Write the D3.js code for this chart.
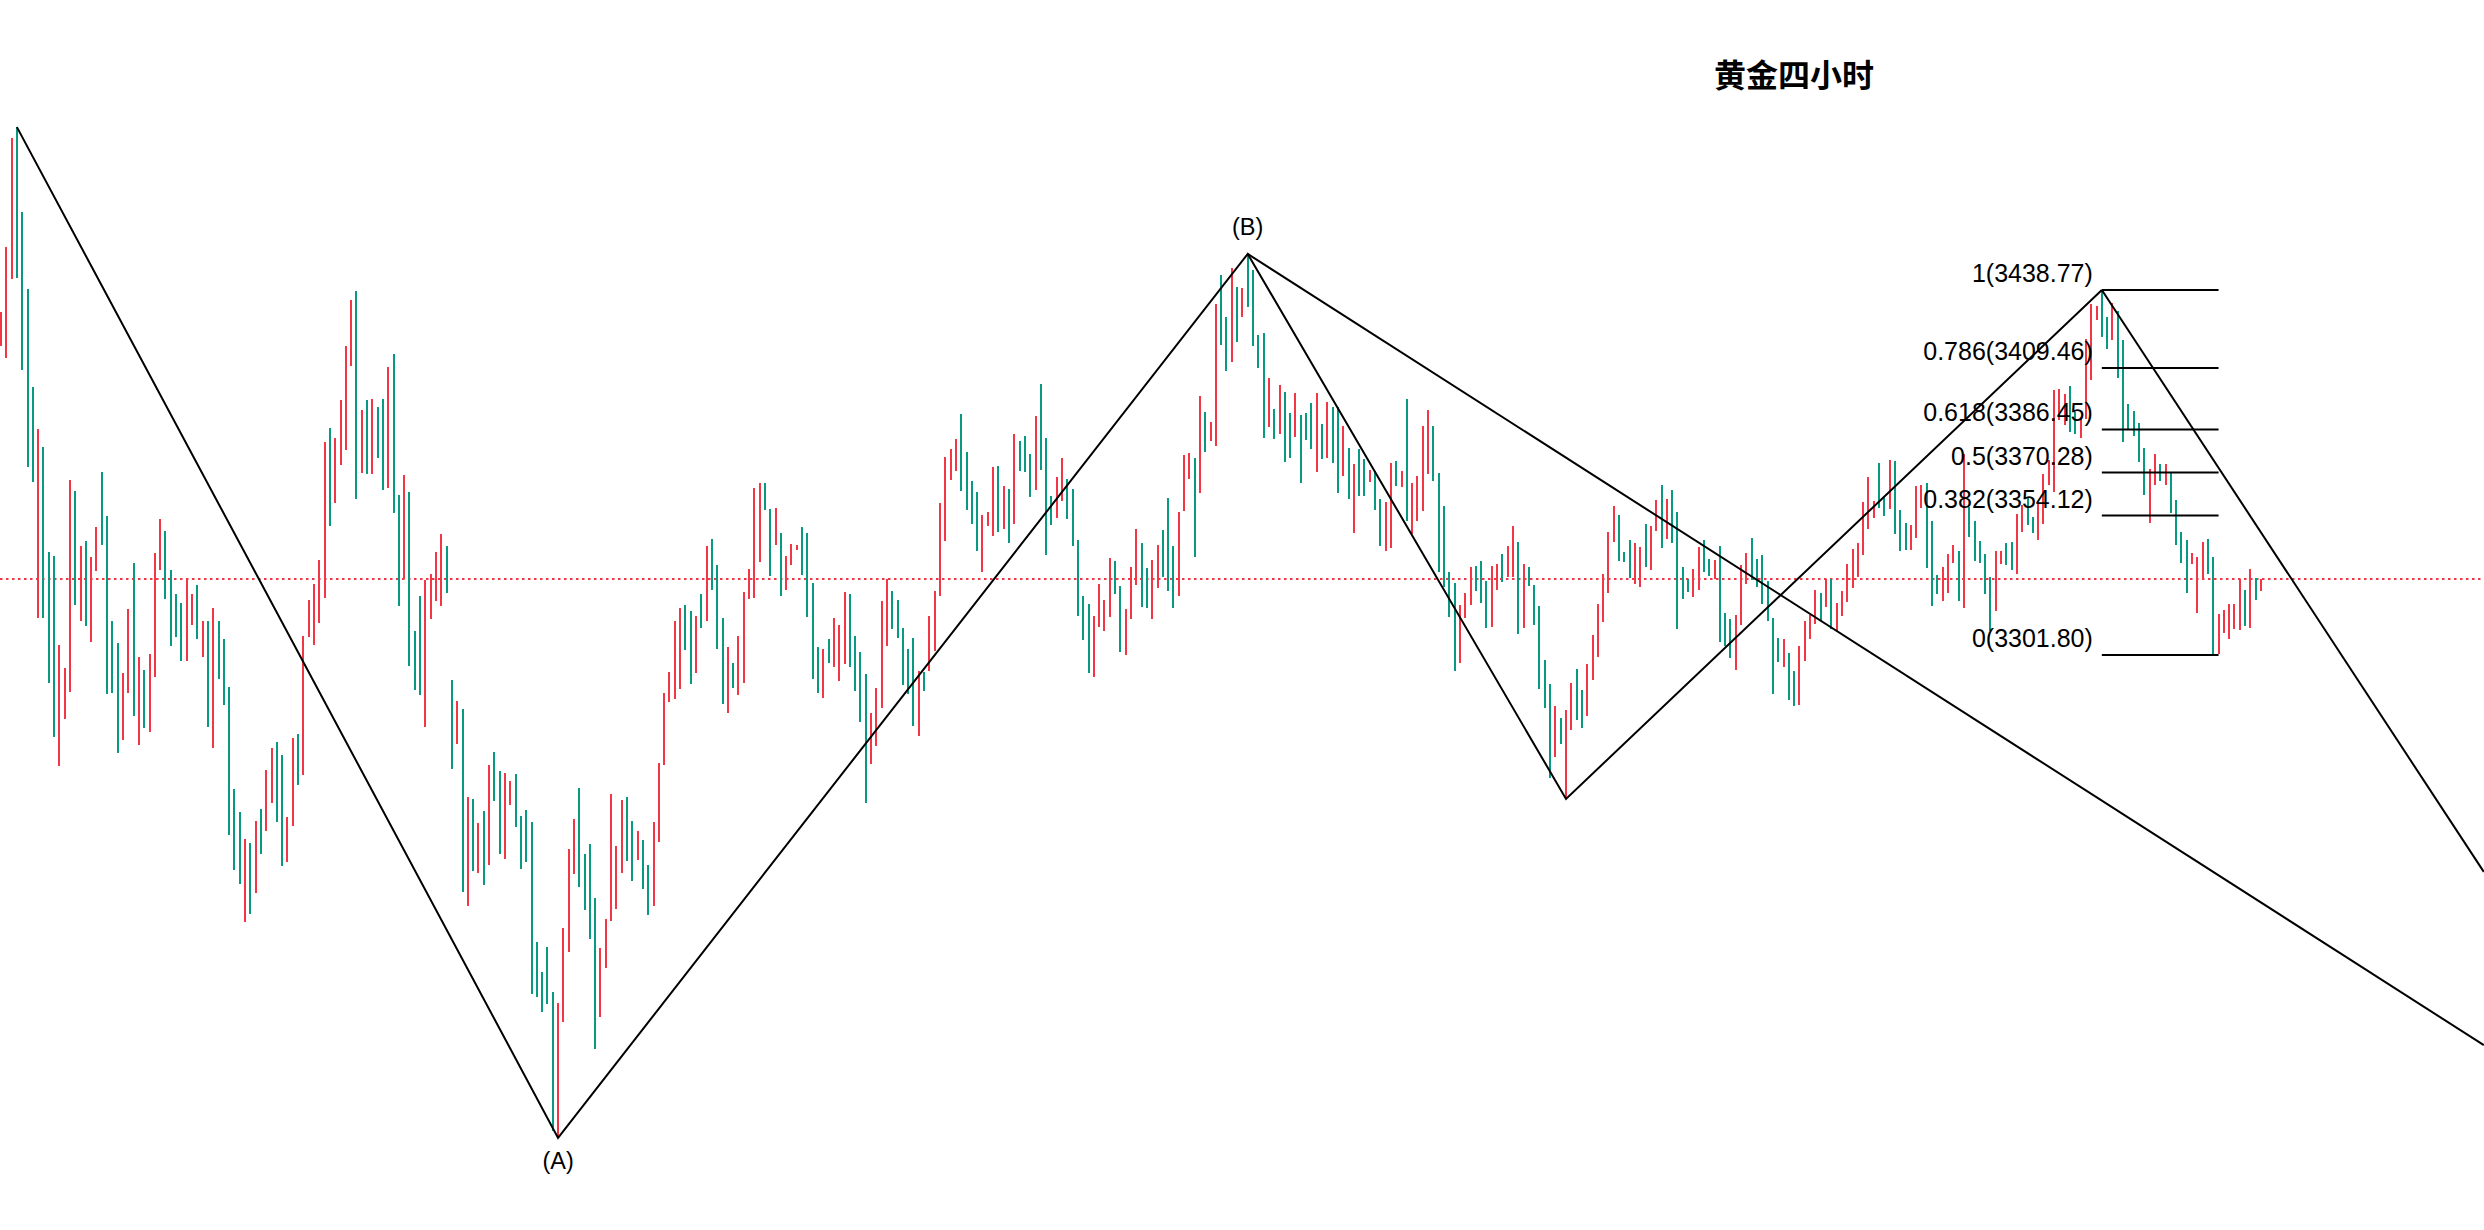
<!DOCTYPE html>
<html>
<head>
<meta charset="utf-8">
<script src="https://cdn.jsdelivr.net/npm/d3@7/dist/d3.min.js"></script>
<style>
html,body{margin:0;padding:0;background:#fff;overflow:hidden;}
svg{display:block;}
</style>
</head>
<body>
<script>
// ---- data (4h gold candles) ----
const title = "黄金四小时";
const opens = [3417.8,3413.3,3442.9,3499.9,3468.0,3439.1,3402.4,3315.7,3379.9,3340.5,
3339.0,3260.2,3277.8,3287.9,3363.4,3314.6,3344.6,3306.7,3333.3,3370.5,
3354.0,3314.6,3306.3,3269.9,3287.5,3336.3,3268.0,3296.2,3272.9,3293.5,
3333.7,3348.3,3333.7,3324.7,3321.3,3299.6,3313.1,3328.1,3301.1,3314.6,
3266.9,3314.6,3307.8,3289.8,3251.5,3242.9,3201.6,3231.2,3212.5,3244.0,
3235.8,3246.3,3269.1,3264.3,3224.1,3237.6,3272.2,3256.8,3308.6,3305.6,
3313.8,3323.2,3387.0,3358.8,3373.1,3378.7,3410.3,3438.4,3370.1,3397.5,
3369.7,3394.9,3397.9,3364.5,3414.8,3361.9,3330.3,3363.0,3310.8,3323.9,
3274.8,3315.3,3322.1,3320.2,3342.7,3292.4,3268.4,3281.5,3207.6,3247.8,
3220.0,3243.3,3223.0,3265.4,3258.3,3225.3,3245.5,3257.2,3241.4,3243.6,
3239.1,3194.1,3182.8,3192.2,3175.3,3120.6,3164.1,3190.4,3219.6,3251.9,
3227.1,3230.9,3210.6,3166.0,3184.4,3202.0,3206.5,3220.0,3248.5,3239.5,
3224.9,3232.4,3223.0,3207.6,3231.6,3260.5,3284.2,3285.3,3289.0,3320.6,
3318.3,3295.0,3324.7,3314.6,3345.3,3335.6,3315.7,3280.0,3298.8,3286.8,
3291.3,3322.8,3323.2,3336.7,3366.3,3356.6,3343.1,3347.6,3326.2,3335.6,
3341.2,3349.8,3347.6,3328.8,3304.8,3285.7,3307.8,3297.3,3292.0,3298.4,
3324.7,3308.9,3302.9,3294.7,3260.9,3267.7,3281.9,3305.2,3325.8,3322.4,
3311.9,3304.1,3308.2,3271.4,3295.4,3295.8,3303.3,3323.9,3344.6,3367.5,
3370.9,3392.2,3378.0,3367.1,3363.0,3333.0,3350.2,3346.5,3372.7,3349.1,
3364.1,3350.9,3382.1,3384.0,3377.2,3363.7,3403.5,3383.2,3361.5,3353.2,
3359.6,3367.8,3364.1,3345.0,3323.9,3320.9,3293.5,3312.3,3310.8,3316.1,
3337.1,3327.7,3301.8,3315.3,3328.1,3343.8,3334.5,3315.3,3327.0,3348.7,
3360.7,3342.7,3323.9,3355.8,3367.8,3375.7,3362.6,3393.0,3382.1,3380.2,
3444.4,3428.6,3411.8,3439.9,3428.6,3452.3,3446.3,3421.9,3422.6,3387.4,
3394.1,3384.7,3400.5,3392.6,3383.6,3391.9,3392.6,3396.4,3370.5,3388.5,
3375.7,3394.9,3394.9,3369.0,3379.5,3347.6,3379.1,3375.4,3366.7,3370.9,
3360.3,3340.8,3342.0,3374.6,3364.8,3397.9,3347.2,3352.1,3355.8,3369.7,
3387.7,3370.1,3357.7,3333.0,3328.8,3298.8,3315.7,3320.6,3335.2,3337.1,
3329.6,3312.3,3326.2,3339.7,3331.1,3331.1,3344.2,3311.9,3334.8,3328.1,
3320.2,3299.9,3290.9,3263.5,3278.2,3247.8,3273.7,3296.6,3288.7,3278.9,
3292.4,3301.1,3314.2,3325.1,3344.2,3354.4,3340.5,3345.0,3328.4,3327.3,
3350.9,3333.7,3348.3,3365.6,3345.3,3363.7,3355.5,3334.8,3330.3,3323.6,
3326.2,3345.0,3337.8,3330.3,3342.7,3317.6,3315.3,3296.2,3313.1,3328.4,
3345.7,3337.8,3339.3,3329.6,3315.7,3308.2,3297.3,3302.6,3295.8,3283.0,
3299.6,3307.8,3313.4,3325.1,3319.8,3330.3,3310.8,3316.4,3321.7,3327.0,
3331.1,3339.3,3349.1,3353.2,3373.9,3361.1,3356.6,3374.6,3356.2,3351.3,
3341.2,3345.7,3357.0,3366.3,3352.1,3331.8,3322.1,3325.1,3336.3,3340.8,
3319.4,3357.3,3352.1,3344.6,3339.7,3331.1,3318.3,3336.0,3343.8,3344.2,
3332.2,3348.0,3360.7,3353.6,3345.0,3350.9,3365.6,3363.0,3390.0,3388.1,
3402.8,3393.0,3383.2,3390.4,3405.0,3427.5,3438.8,3428.6,3420.0,3430.9,
3420.0,3396.0,3393.4,3388.9,3379.5,3351.3,3365.6,3373.5,3365.6,3370.1,
3360.0,3348.0,3345.0,3336.0,3317.6,3330.7,3345.3,3338.6,3302.2,3310.1,
3307.8,3311.6,3311.2,3326.2,3311.9,3330.7,3325.8];
const closes = [3430.5,3454.9,3495.8,3443.3,3408.8,3372.4,3366.7,3386.6,3315.7,3291.3,
3271.0,3305.6,3296.9,3367.5,3320.6,3342.7,3312.7,3338.6,3349.8,3343.1,
3287.2,3287.5,3265.0,3295.0,3319.1,3278.9,3301.1,3274.4,3302.2,3340.1,
3352.8,3322.8,3305.2,3308.6,3299.6,3330.3,3324.7,3307.8,3314.6,3274.8,
3319.4,3292.8,3283.0,3234.3,3221.1,3215.9,3232.8,3204.6,3239.5,3227.1,
3258.6,3266.9,3239.1,3222.6,3241.0,3270.7,3253.0,3308.9,3322.4,3328.4,
3337.5,3381.7,3350.2,3383.2,3397.5,3417.8,3435.0,3360.3,3393.7,3369.7,
3397.9,3375.7,3363.7,3409.9,3355.1,3320.2,3369.3,3297.7,3288.7,3286.8,
3330.0,3332.2,3340.5,3347.2,3325.1,3259.0,3284.5,3212.9,3248.5,3220.8,
3238.8,3215.5,3260.5,3247.0,3227.1,3257.5,3254.5,3237.3,3221.5,3224.1,
3174.6,3173.5,3167.8,3170.8,3123.2,3171.2,3199.4,3229.0,3240.3,3214.7,
3206.1,3195.2,3154.0,3191.9,3202.7,3249.6,3230.1,3247.4,3224.5,3217.0,
3235.8,3214.0,3204.2,3239.1,3261.3,3287.5,3295.4,3314.6,3319.4,3303.7,
3290.9,3316.4,3311.9,3342.7,3326.2,3304.1,3283.4,3304.8,3289.4,3308.9,
3325.4,3334.1,3364.5,3366.3,3356.2,3331.4,3357.0,3323.9,3339.0,3343.5,
3343.1,3331.8,3316.1,3292.8,3287.5,3304.1,3298.8,3315.7,3313.1,3325.4,
3297.3,3288.3,3276.7,3246.3,3280.0,3289.4,3322.1,3330.3,3311.6,3308.2,
3290.5,3287.2,3275.2,3295.8,3288.3,3316.4,3325.8,3358.8,3376.1,3379.1,
3382.9,3363.4,3356.2,3350.9,3340.8,3354.4,3355.5,3372.4,3348.0,3365.2,
3343.8,3384.7,3370.9,3370.5,3361.1,3391.5,3371.2,3339.3,3350.6,3368.6,
3375.7,3352.8,3342.7,3316.4,3307.4,3295.0,3316.4,3328.4,3322.4,3338.2,
3324.7,3302.9,3319.1,3334.8,3349.1,3319.8,3319.4,3337.5,3343.1,3331.1,
3325.8,3319.4,3355.5,3376.9,3377.6,3338.6,3399.0,3378.0,3389.2,3433.5,
3418.1,3408.4,3447.0,3419.3,3439.5,3432.4,3417.8,3409.5,3383.2,3405.7,
3382.9,3403.1,3374.2,3375.7,3400.1,3366.3,3382.5,3379.1,3400.1,3375.4,
3396.7,3373.9,3362.6,3387.7,3360.3,3373.5,3361.5,3361.5,3371.2,3356.2,
3342.7,3359.2,3373.9,3365.2,3370.9,3352.1,3366.3,3369.0,3387.7,3393.7,
3367.1,3333.0,3327.3,3316.1,3295.8,3320.6,3325.1,3334.8,3325.8,3321.3,
3311.9,3335.2,3336.0,3329.2,3342.7,3350.2,3309.7,3336.0,3327.7,3313.1,
3289.0,3281.9,3255.6,3282.7,3268.4,3281.2,3291.3,3277.4,3274.4,3298.4,
3309.3,3320.9,3332.2,3348.0,3357.7,3337.1,3336.7,3330.7,3343.8,3342.3,
3334.8,3350.2,3360.0,3342.0,3360.3,3343.8,3311.6,3322.8,3325.4,3334.1,
3342.3,3333.0,3331.4,3337.5,3306.7,3305.2,3300.7,3316.8,3335.6,3340.1,
3330.0,3327.3,3320.9,3314.6,3287.2,3299.2,3307.8,3284.9,3282.7,3305.2,
3314.6,3316.8,3326.2,3314.6,3330.3,3311.6,3321.3,3325.8,3336.0,3341.6,
3343.8,3359.2,3368.6,3359.6,3357.0,3354.0,3375.0,3347.2,3340.8,3341.2,
3350.6,3365.2,3365.6,3334.5,3320.2,3324.7,3334.8,3339.7,3343.1,3322.1,
3377.2,3346.1,3337.1,3336.3,3324.7,3310.8,3340.8,3340.8,3335.6,3333.7,
3354.7,3358.1,3350.6,3347.6,3358.5,3369.7,3375.0,3401.3,3401.6,3399.7,
3385.5,3384.7,3391.1,3420.4,3433.5,3432.8,3421.1,3416.6,3433.9,3405.7,
3381.7,3386.2,3384.0,3374.2,3361.9,3371.6,3377.2,3367.1,3373.5,3355.1,
3343.1,3336.3,3325.1,3340.1,3338.6,3344.2,3332.2,3301.8,3317.2,3318.7,
3320.9,3320.9,3330.3,3312.7,3334.1,3322.4,3330.3];

// zigzag pivots (candle index, price)
const pivotIdx   = [3, 105, 235, 295, 396];
const pivotPrice = [3499.9, 3120.6, 3452.3, 3247.8, 3438.77];
const pivotLabels = ["", "(A)", "(B)", "", ""];
// extension rays: from pivot index to far index / price
const rayFrom  = [2, 4];          // pivot numbers (B, top)
const rayToIdx = [468, 468];
const rayToPrice = [3155.4, 3220.4];

// Fibonacci levels
const fibRatios = [1, 0.786, 0.618, 0.5, 0.382, 0];
const fibHigh = 3438.77, fibLow = 3301.80;
const fibStartIdx = 396, fibEndIdx = 418;

// ---- drawing ----
const W = 2484, H = 1230;
const svg = d3.select("body").append("svg").attr("width", W).attr("height", H);

const n = opens.length;
const x = d3.scaleLinear().domain([0, n - 1]).range([1, 2261]);
const y = d3.scaleLinear().domain([fibLow, fibHigh]).range([655, 290]);

const UP = "#f23645", DOWN = "#089981";
const candles = d3.range(n).map(i => ({i, o: opens[i], c: closes[i]}));

// last price line
const lastClose = closes[n - 1];
svg.append("line")
  .attr("x1", 0).attr("x2", W)
  .attr("y1", y(lastClose)).attr("y2", y(lastClose))
  .attr("stroke", UP).attr("stroke-width", 2)
  .attr("stroke-dasharray", "2.5,3.5");

svg.append("g").selectAll("rect").data(candles).join("rect")
  .attr("x", d => x(d.i) - 1)
  .attr("width", 2)
  .attr("y", d => y(Math.max(d.o, d.c)))
  .attr("height", d => Math.max(1, Math.abs(y(d.o) - y(d.c))))
  .attr("fill", d => d.c >= d.o ? UP : DOWN)
  .attr("shape-rendering", "crispEdges");

// zigzag
const pts = pivotIdx.map((d, k) => [x(d), y(pivotPrice[k])]);
svg.append("path")
  .attr("d", d3.line()(pts))
  .attr("fill", "none").attr("stroke", "#000").attr("stroke-width", 2)
  .attr("stroke-linejoin", "miter");

rayFrom.forEach((pk, k) => {
  svg.append("line")
    .attr("x1", x(pivotIdx[pk])).attr("y1", y(pivotPrice[pk]))
    .attr("x2", x(rayToIdx[k])).attr("y2", y(rayToPrice[k]))
    .attr("stroke", "#000").attr("stroke-width", 2);
});

// pivot labels
const labFont = "'Liberation Sans', Arial, Helvetica, sans-serif";
pivotLabels.forEach((t, k) => {
  if (!t) return;
  const px = x(pivotIdx[k]), py = y(pivotPrice[k]);
  const below = k === 1;
  svg.append("text")
    .attr("x", px).attr("y", below ? py + 31 : py - 19)
    .attr("text-anchor", "middle")
    .attr("font-family", labFont).attr("font-size", 23.5)
    .attr("fill", "#000").text(t);
});

// fib levels
const fg = svg.append("g");
fibRatios.forEach(r => {
  const p = fibLow + r * (fibHigh - fibLow);
  const yy = y(p);
  fg.append("line")
    .attr("x1", x(fibStartIdx)).attr("x2", x(fibEndIdx))
    .attr("y1", yy).attr("y2", yy)
    .attr("stroke", "#000").attr("stroke-width", 2);
  fg.append("text")
    .attr("x", x(fibStartIdx) - 9).attr("y", yy - 8)
    .attr("text-anchor", "end")
    .attr("font-family", labFont).attr("font-size", 25)
    .attr("fill", "#000")
    .text(`${r}(${p.toFixed(2)})`);
});

// title
svg.append("text")
  .attr("x", 1794).attr("y", 87)
  .attr("text-anchor", "middle")
  .attr("font-family", "'Noto Sans CJK SC', 'Noto Sans', sans-serif")
  .attr("font-weight", "bold").attr("font-size", 32)
  .attr("fill", "#000").text(title);
</script>
</body>
</html>
